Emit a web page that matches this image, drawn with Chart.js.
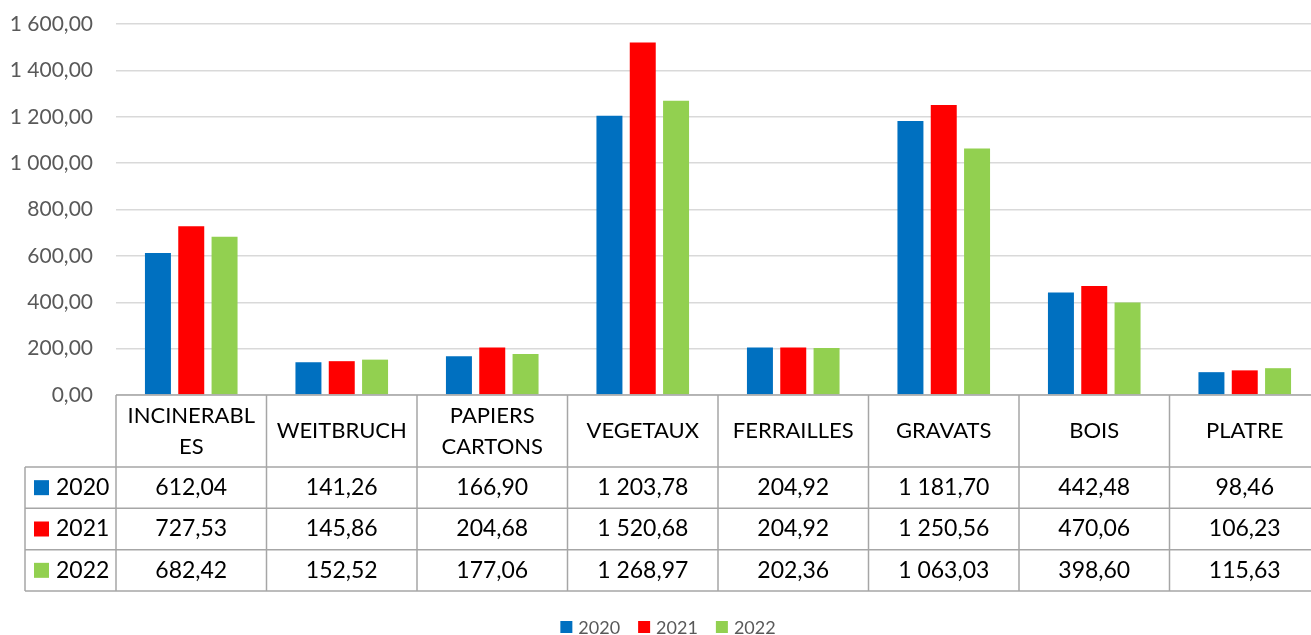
<!DOCTYPE html>
<html>
<head>
<meta charset="utf-8">
<script src="https://cdn.jsdelivr.net/npm/chart.js@4"></script>
<style>
    html, body { margin: 0; padding: 0; background: #fff; overflow: hidden; }
    #wrap { width: 1322px; height: 635px; }
</style>
</head>
<body>
<div id="wrap"><canvas id="wasteChart"></canvas></div>
<script>
// Tonnages per waste type, 2020-2022
const categories = [['INCINERABL', 'ES'], 'WEITBRUCH', ['PAPIERS', 'CARTONS'], 'VEGETAUX', 'FERRAILLES', 'GRAVATS', 'BOIS', 'PLATRE'];
const years = ['2020', '2021', '2022'];
const values2020 = [612.04, 141.26, 166.90, 1203.78, 204.92, 1181.70, 442.48, 98.46];
const values2021 = [727.53, 145.86, 204.68, 1520.68, 204.92, 1250.56, 470.06, 106.23];
const values2022 = [682.42, 152.52, 177.06, 1268.97, 202.36, 1063.03, 398.60, 115.63];
const yTicks = [0, 200, 400, 600, 800, 1000, 1200, 1400, 1600];

const colors = ['#0070C0', '#FF0000', '#92D050'];
const FONT = 'Lato';

function frNumber(n) {
    const parts = n.toFixed(2).split('.');
    return parts[0].replace(/\B(?=(\d{3})+(?!\d))/g, ' ') + ',' + parts[1];
}

// draws the data table under the plot, and the legend at the bottom
const dataTable = {
    id: 'dataTable',
    afterDraw(chart) {
        const ctx = chart.ctx;
        const x = chart.scales.x;
        const top = x.top;
        const headerBottom = top + 72;
        const rowH = (x.bottom - headerBottom) / 3;
        const half = (x.getPixelForValue(1) - x.getPixelForValue(0)) / 2;
        const left = x.left;
        const right = x.right;
        const legendLeft = 25;

        ctx.save();
        ctx.strokeStyle = '#a6a6a6';
        ctx.lineWidth = 1.5;
        ctx.beginPath();
        ctx.moveTo(left, top); ctx.lineTo(right, top);
        for (let r = 0; r <= 3; r++) {
            const y = headerBottom + r * rowH;
            ctx.moveTo(legendLeft, y); ctx.lineTo(right, y);
        }
        ctx.moveTo(legendLeft, headerBottom); ctx.lineTo(legendLeft, x.bottom);
        for (let i = 0; i <= categories.length; i++) {
            const cx = x.getPixelForValue(0) - half + i * half * 2;
            ctx.moveTo(cx, top); ctx.lineTo(cx, x.bottom);
        }
        ctx.stroke();

        ctx.fillStyle = '#000';
        ctx.textAlign = 'center';
        ctx.textBaseline = 'middle';
        ctx.font = '22px ' + FONT;
        categories.forEach((cat, i) => {
            const cx = x.getPixelForValue(i);
            const lines = Array.isArray(cat) ? cat : [cat];
            const lh = 31;
            const y0 = (top + headerBottom) / 2 - (lines.length - 1) * lh / 2;
            lines.forEach((line, k) => ctx.fillText(line, cx, y0 + k * lh));
        });

        ctx.font = '23px ' + FONT;
        chart.data.datasets.forEach((ds, r) => {
            const yc = headerBottom + r * rowH + rowH / 2;
            ctx.fillStyle = ds.backgroundColor;
            ctx.fillRect(34, yc - 7.5, 15, 15);
            ctx.fillStyle = '#000';
            ctx.textAlign = 'left';
            ctx.fillText(ds.label, 56, yc);
            ctx.textAlign = 'center';
            ds.data.forEach((v, i) => ctx.fillText(frNumber(v), x.getPixelForValue(i), yc));
        });

        // legend
        ctx.font = '18px ' + FONT;
        ctx.textAlign = 'left';
        const box = 12, gapText = 6, gapItem = 18;
        const widths = chart.data.datasets.map(ds => box + gapText + ctx.measureText(ds.label).width);
        const total = widths.reduce((a, b) => a + b, 0) + gapItem * (widths.length - 1);
        let lx = 668 - total / 2;
        const ly = 627;
        chart.data.datasets.forEach((ds, i) => {
            ctx.fillStyle = ds.backgroundColor;
            ctx.fillRect(lx, ly - box / 2, box, box);
            ctx.fillStyle = '#595959';
            ctx.fillText(ds.label, lx + box + gapText, ly + 1);
            lx += widths[i] + gapItem;
        });
        ctx.restore();
    }
};

const seriesValues = [values2020, values2021, values2022];

new Chart(document.getElementById('wasteChart'), {
    type: 'bar',
    data: {
        labels: categories,
        datasets: years.map((year, i) => ({
            label: year,
            data: seriesValues[i],
            backgroundColor: colors[i],
            borderWidth: 0,
            categoryPercentage: 0.664,
            barPercentage: 0.78
        }))
    },
    options: {
        responsive: true,
        maintainAspectRatio: false,
        animation: false,
        layout: { padding: { top: 24, right: 2, bottom: 44, left: 0 } },
        plugins: {
            legend: { display: false },
            tooltip: { enabled: false }
        },
        scales: {
            x: {
                grid: { display: false },
                border: { display: false },
                ticks: { display: false },
                afterFit: (scale) => { scale.height = 196; }
            },
            y: {
                min: 0,
                max: 1600,
                afterBuildTicks: (scale) => { scale.ticks = yTicks.map(v => ({ value: v })); },
                afterFit: (scale) => { scale.width = 116; },
                grid: { color: '#d9d9d9', lineWidth: 1.5, drawTicks: true, tickLength: 23, tickColor: 'rgba(0,0,0,0)' },
                border: { display: false },
                ticks: {
                    padding: 0,
                    color: '#595959',
                    font: { family: FONT, size: 21 },
                    callback: (v) => frNumber(v)
                }
            }
        }
    },
    plugins: [dataTable]
});
</script>
</body>
</html>
